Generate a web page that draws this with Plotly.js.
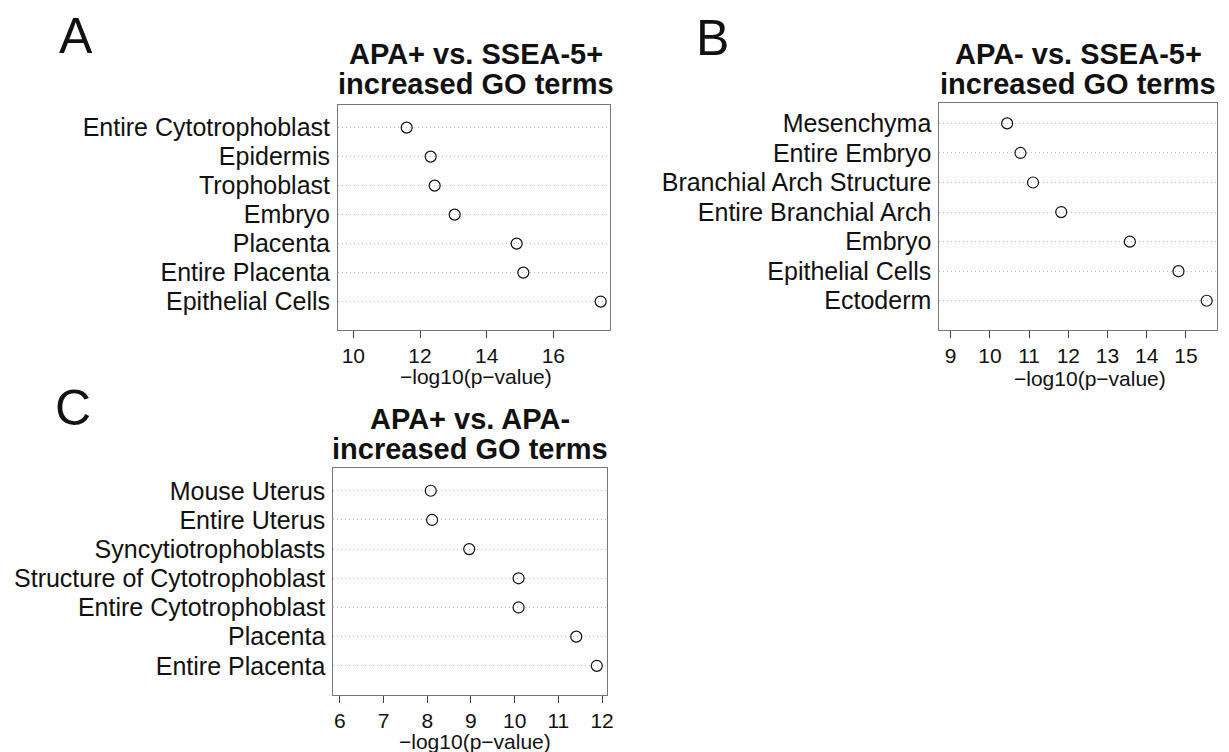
<!DOCTYPE html>
<html>
<head>
<meta charset="utf-8">
<script src="https://cdn.plot.ly/plotly-3.0.1.min.js"></script>
<style>html,body{margin:0;padding:0;background:#fff;}#chart{width:1229px;height:752px;}</style>
</head>
<body>
<div id="chart"></div>
<script>
// Panel A: APA+ vs. SSEA-5+ (top to bottom)
const termsA = ["Entire Cytotrophoblast", "Epidermis", "Trophoblast", "Embryo", "Placenta", "Entire Placenta", "Epithelial Cells"];
const valuesA = [11.60, 12.32, 12.44, 13.04, 14.90, 15.10, 17.42];
// Panel B: APA- vs. SSEA-5+
const termsB = ["Mesenchyma", "Entire Embryo", "Branchial Arch Structure", "Entire Branchial Arch", "Embryo", "Epithelial Cells", "Ectoderm"];
const valuesB = [10.44, 10.78, 11.10, 11.82, 13.57, 14.81, 15.53];
// Panel C: APA+ vs. APA-
const termsC = ["Mouse Uterus", "Entire Uterus", "Syncytiotrophoblasts", "Structure of Cytotrophoblast", "Entire Cytotrophoblast", "Placenta", "Entire Placenta"];
const valuesC = [8.08, 8.11, 8.96, 10.09, 10.09, 11.41, 11.88];

const titlesA = ["APA+ vs. SSEA-5+", "increased GO terms"];
const titlesB = ["APA- vs. SSEA-5+", "increased GO terms"];
const titlesC = ["APA+ vs. APA-", "increased GO terms"];
const xTitle = "\u2212log10(p\u2212value)";

const W = 1229, H = 752;
const FONT = "Liberation Sans, Arial, Helvetica, sans-serif";
const px = x => x / W;
const py = y => 1 - y / H;

function trace(terms, vals, xa, ya) {
  return {
    type: "scatter", mode: "markers",
    x: vals, y: terms, xaxis: xa, yaxis: ya,
    marker: {symbol: "circle-open", size: 11, color: "#111", line: {width: 1.2, color: "#111"}},
    hoverinfo: "skip", showlegend: false
  };
}

function xax(domL, domR, range, tick0, dtick) {
  return {
    domain: [px(domL), px(domR)], range: range,
    tick0: tick0, dtick: dtick, ticks: "outside", ticklen: 7, tickwidth: 1, tickcolor: "#444",
    showgrid: false, zeroline: false, showline: true, mirror: true, linecolor: "#777", linewidth: 1,
    tickfont: {family: FONT, size: 21, color: "#111"}, fixedrange: true
  };
}
function yax(domT, domB, range, terms) {
  return {
    domain: [py(domB), py(domT)], range: range, type: "category",
    categoryorder: "array", categoryarray: terms,
    tickmode: "array", tickvals: terms, ticktext: terms,
    ticks: "", showgrid: true, gridcolor: "#bdbdbd", griddash: "1px,3px", gridwidth: 1,
    zeroline: false, showline: true, mirror: true, linecolor: "#777", linewidth: 1,
    tickfont: {family: FONT, size: 25, color: "#111"}, ticklabelstandoff: 2, fixedrange: true
  };
}

const data = [
  trace(termsA, valuesA, "x", "y"),
  trace(termsB, valuesB, "x2", "y2"),
  trace(termsC, valuesC, "x3", "y3")
];

const xa = xax(338, 610, [9.54, 17.70], 10, 2); xa.anchor = "y";
const xb = xax(939.3, 1217.3, [8.71, 15.80], 9, 1); xb.anchor = "y2";
const xc = xax(333.3, 607.3, [5.85, 12.12], 6, 1); xc.anchor = "y3";
const ya = yax(104.7, 330, [6.98, -0.79], termsA); ya.anchor = "x";
const yb = yax(103.3, 330, [6.99, -0.68], termsB); yb.anchor = "x2";
const yc = yax(468.3, 695, [7.0, -0.77], termsC); yc.anchor = "x3";

function ann(text, x, y, size, bold) {
  return {
    text: bold ? "<b>" + text + "</b>" : text,
    x: px(x), y: py(y), xref: "paper", yref: "paper",
    xanchor: "center", yanchor: "middle", showarrow: false,
    font: {family: FONT, size: size, color: "#111"}
  };
}

const annotations = [
  ann("A", 76, 36, 50, false),
  ann("B", 712, 38, 50, false),
  ann("C", 73, 408, 50, false),
  ann(titlesA[0], 476, 54, 29, true),
  ann(titlesA[1], 476, 84, 29, true),
  ann(titlesB[0], 1078, 54, 29, true),
  ann(titlesB[1], 1078, 84, 29, true),
  ann(titlesC[0], 470, 419, 29, true),
  ann(titlesC[1], 470, 449, 29, true),
  ann(xTitle, 476, 376, 21, false),
  ann(xTitle, 1090, 378, 21, false),
  ann(xTitle, 475, 741, 21, false)
];

const layout = {
  width: W, height: H,
  margin: {l: 0, r: 0, t: 0, b: 0},
  paper_bgcolor: "#fff", plot_bgcolor: "#fff",
  xaxis: xa, xaxis2: xb, xaxis3: xc,
  yaxis: ya, yaxis2: yb, yaxis3: yc,
  annotations: annotations,
  showlegend: false
};

Plotly.newPlot("chart", data, layout, {staticPlot: true, displayModeBar: false});
</script>
</body>
</html>
